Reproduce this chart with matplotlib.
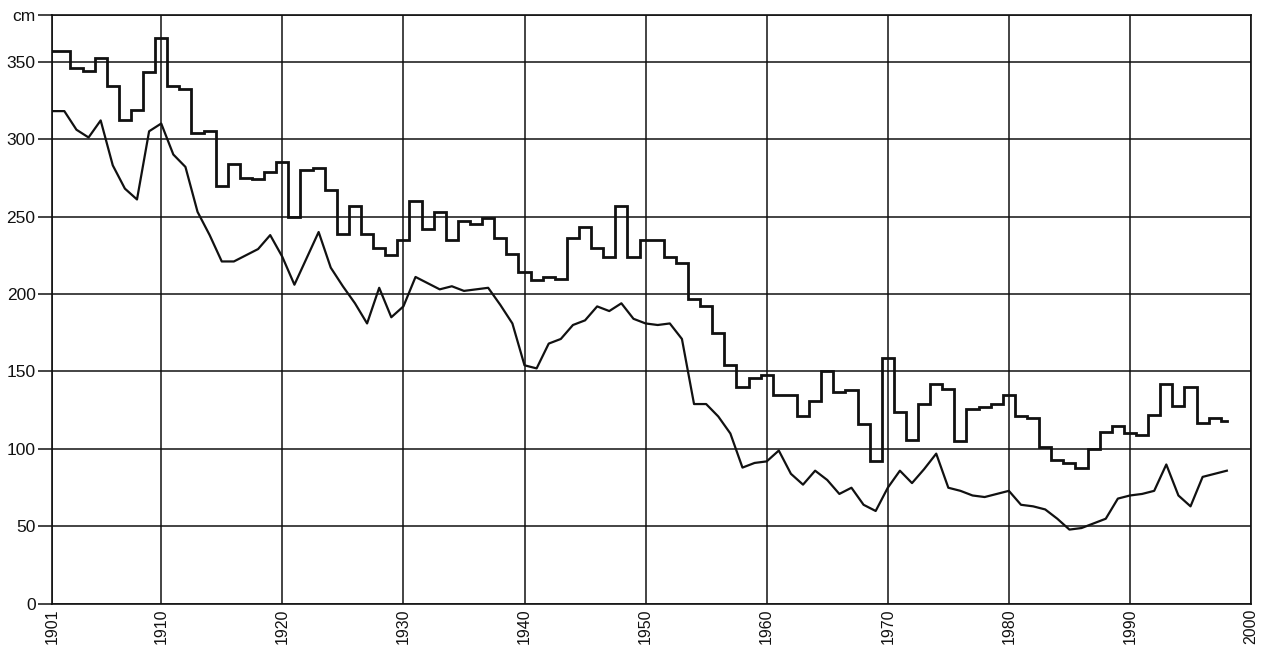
import numpy as np
import matplotlib
matplotlib.use("Agg")
import matplotlib.pyplot as plt

plt.rcParams['font.family'] = ['Liberation Sans', 'DejaVu Sans']

years = np.arange(1901, 1999)

# annual values, drawn as steps (upper curve)
upper = [357, 357, 346, 344, 352, 334, 312, 319, 343, 365,
         334, 332, 304, 305, 270, 284, 275, 274, 279, 285,
         250, 280, 281, 267, 239, 257, 239, 230, 225, 235,
         260, 242, 253, 235, 247, 245, 249, 236, 226, 214,
         209, 211, 210, 236, 243, 230, 224, 257, 224, 235,
         235, 224, 220, 197, 192, 175, 154, 140, 146, 148,
         135, 135, 121, 131, 150, 137, 138, 116, 92, 159,
         124, 106, 129, 142, 139, 105, 126, 127, 129, 135,
         121, 120, 101, 93, 91, 88, 100, 111, 115, 110,
         109, 122, 142, 128, 140, 117, 120, 118]

# annual values, drawn as a plain line (lower curve)
lower = [318, 318, 306, 301, 312, 283, 268, 261, 305, 310,
         290, 282, 253, 238, 221, 221, 225, 229, 238, 224,
         206, 223, 240, 217, 205, 194, 181, 204, 185, 192,
         211, 207, 203, 205, 202, 203, 204, 193, 181, 154,
         152, 168, 171, 180, 183, 192, 189, 194, 184, 181,
         180, 181, 171, 129, 129, 121, 110, 88, 91, 92,
         99, 84, 77, 86, 80, 71, 75, 64, 60, 75,
         86, 78, 87, 97, 75, 73, 70, 69, 71, 73,
         64, 63, 61, 55, 48, 49, 52, 55, 68, 70,
         71, 73, 90, 70, 63, 82, 84, 86]

x_ticks = [1901, 1910, 1920, 1930, 1940, 1950, 1960, 1970, 1980, 1990, 2000]
y_ticks = [0, 50, 100, 150, 200, 250, 300, 350, 380]
y_labels = ['0', '50', '100', '150', '200', '250', '300', '350', 'cm']

ink = '#111111'

fig = plt.figure(figsize=(12.74, 6.45), dpi=100)
ax = fig.add_axes([0.041, 0.0636, 0.941, 0.9131])

ax.plot(years, upper, drawstyle='steps-mid', color=ink, lw=2.0,
        solid_joinstyle='miter', zorder=3)
ax.plot(years, lower, color=ink, lw=1.6, zorder=3)

ax.set_xlim(1901, 2000)
ax.set_ylim(0, 380)

ax.set_xticks(x_ticks)
ax.set_xticklabels([str(t) for t in x_ticks], rotation=90, fontsize=11.5)
ax.set_yticks(y_ticks)
ax.set_yticklabels(y_labels, fontsize=12.5)

ax.grid(True, color=ink, lw=1.1)
ax.set_axisbelow(True)

ax.tick_params(axis='x', length=0, pad=3, colors=ink)
ax.tick_params(axis='y', length=10, width=1.1, pad=2, colors=ink)
for side in ax.spines.values():
    side.set_color(ink)
    side.set_linewidth(1.2)

fig.savefig('out.png', dpi=100, facecolor='white')
